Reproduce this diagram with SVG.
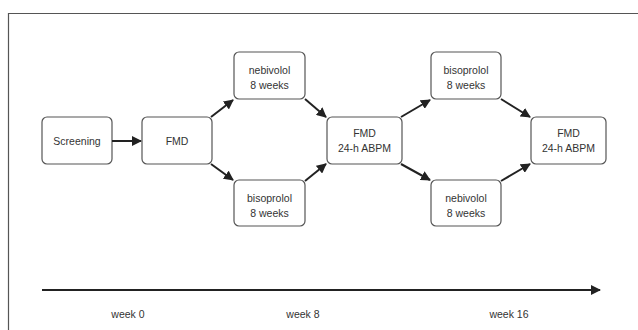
<svg xmlns="http://www.w3.org/2000/svg" width="638" height="330" viewBox="0 0 638 330">
<style>
.box{fill:#fff;stroke:#555;stroke-width:1.2}
text{font-family:"Liberation Sans",Arial,sans-serif;font-size:10.5px;fill:#333;text-anchor:middle}
.c{stroke:#222;stroke-width:2;fill:none;marker-end:url(#ah)}
</style>
<defs>
<marker id="ah" viewBox="0 0 10 10" refX="9" refY="5" markerWidth="5" markerHeight="5" orient="auto" markerUnits="strokeWidth">
<path d="M0,0 L10,5 L0,10 z" fill="#222"/>
</marker>
</defs>
<rect x="0" y="0" width="638" height="330" fill="#fff"/>
<path d="M8.5,340 V13.5 H645" fill="none" stroke="#555" stroke-width="1.2"/>
<g id="screening"><rect class="box" x="42" y="117" width="70" height="47" rx="5"/><text x="77" y="145">Screening</text></g>
<g id="fmd1"><rect class="box" x="142" y="117" width="70" height="47" rx="5"/><text x="177" y="145">FMD</text></g>
<g id="nebi1"><rect class="box" x="234" y="52" width="71" height="47" rx="5"/><text x="269.5" y="74">nebivolol</text><text x="269.5" y="89">8 weeks</text></g>
<g id="biso1"><rect class="box" x="234" y="180" width="71" height="46" rx="5"/><text x="269.5" y="202">bisoprolol</text><text x="269.5" y="217">8 weeks</text></g>
<g id="fmd2"><rect class="box" x="327" y="117" width="75" height="47" rx="5"/><text x="364.5" y="137">FMD</text><text x="364.5" y="152">24-h ABPM</text></g>
<g id="biso2"><rect class="box" x="431" y="52" width="70" height="47" rx="5"/><text x="466" y="74">bisoprolol</text><text x="466" y="89">8 weeks</text></g>
<g id="nebi2"><rect class="box" x="431" y="180" width="70" height="46" rx="5"/><text x="466" y="202">nebivolol</text><text x="466" y="217">8 weeks</text></g>
<g id="fmd3"><rect class="box" x="531" y="117" width="75" height="47" rx="5"/><text x="568.5" y="137">FMD</text><text x="568.5" y="152">24-h ABPM</text></g>
<g id="connectors">
<line class="c" x1="112" y1="141" x2="141" y2="141"/>
<line class="c" x1="211" y1="117" x2="233" y2="100"/>
<line class="c" x1="211" y1="164" x2="233" y2="180"/>
<line class="c" x1="305" y1="99" x2="326" y2="117"/>
<line class="c" x1="305" y1="181" x2="326" y2="164"/>
<line class="c" x1="401" y1="117" x2="430" y2="100"/>
<line class="c" x1="401" y1="164" x2="430" y2="180"/>
<line class="c" x1="501" y1="99" x2="530" y2="117"/>
<line class="c" x1="501" y1="181" x2="530" y2="164"/>
<line class="c" x1="42" y1="290" x2="600" y2="290"/>
</g>
<text x="128" y="318">week 0</text>
<text x="303" y="318">week 8</text>
<text x="509" y="318">week 16</text>
</svg>
